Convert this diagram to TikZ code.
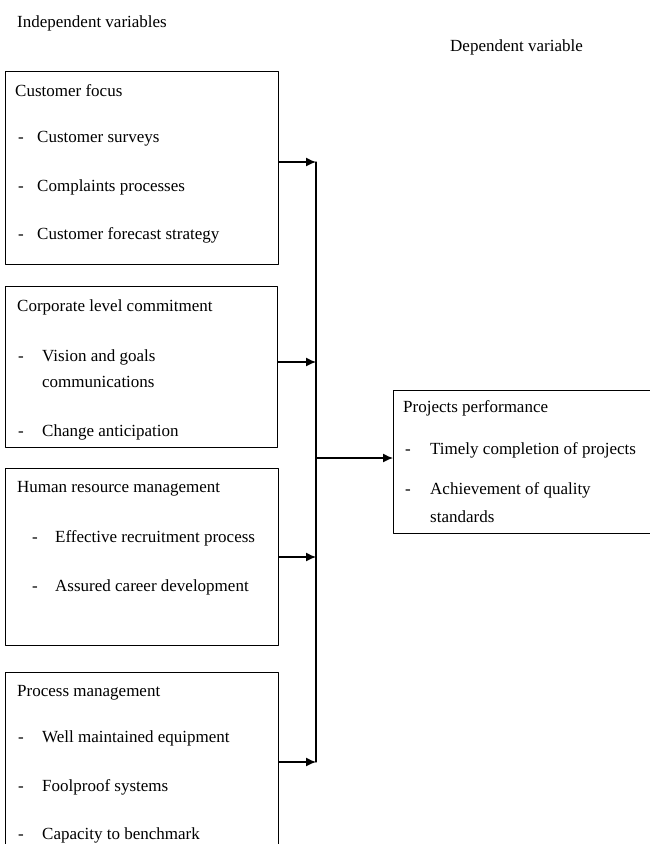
\documentclass[tikz,border=0pt]{standalone}
\usepackage{fontspec}
\setmainfont{Liberation Serif}
\usetikzlibrary{arrows.meta}

\tikzset{
  varbox/.style={draw,line width=1.3pt,anchor=north west,inner sep=0pt},
  txt/.style={anchor=west,inner sep=0pt,text height=12pt,text depth=4pt,
    font=\fontsize{17}{20}\selectfont},
  link/.style={line width=1.3pt,-{Latex[length=10pt,width=9pt]}}
}

\begin{document}
\begin{tikzpicture}[x=1pt,y=-1pt,line cap=round,line join=round]
  \useasboundingbox (0,0) rectangle (650,844);

  \node[txt] (indep) at (17,23) {Independent variables};
  \node[txt] (dep) at (450,47) {Dependent variable};

  % independent variable boxes
  \node[varbox,minimum width=273pt,minimum height=193pt] (focus) at (5,71) {};
  \node[varbox,minimum width=272pt,minimum height=161pt] (commit) at (5,286) {};
  \node[varbox,minimum width=273pt,minimum height=177pt] (hrm) at (5,468) {};
  \node[varbox,minimum width=273pt,minimum height=200pt] (procm) at (5,672) {};
  % dependent variable box
  \node[varbox,minimum width=270pt,minimum height=143pt] (perf) at (393,390) {};

  \node[txt] (focust) at (15,92) {Customer focus};
  \foreach \y/\t [count=\i] in {138/Customer surveys,187/Complaints processes,235/Customer forecast strategy}{
    \node[txt] (focusd\i) at (18,\y) {-};
    \node[txt] (focusi\i) at (37,\y) {\t};
  }

  \node[txt] (committ) at (17,307) {Corporate level commitment};
  \foreach \y/\t [count=\i] in {357/Vision and goals,432/Change anticipation}{
    \node[txt] (commitd\i) at (18,\y) {-};
    \node[txt] (commiti\i) at (42,\y) {\t};
  }
  \node[txt] (commitx) at (42,383) {communications};

  \node[txt] (hrmt) at (17,488) {Human resource management};
  \foreach \y/\t [count=\i] in {538/Effective recruitment process,587/Assured career development}{
    \node[txt] (hrmd\i) at (32,\y) {-};
    \node[txt] (hrmi\i) at (55,\y) {\t};
  }

  \node[txt] (procmt) at (17,692) {Process management};
  \foreach \y/\t [count=\i] in {738/Well maintained equipment,787/Foolproof systems,835/Capacity to benchmark}{
    \node[txt] (procmd\i) at (18,\y) {-};
    \node[txt] (procmi\i) at (42,\y) {\t};
  }

  \node[txt] (perft) at (403,408) {Projects performance};
  \foreach \y/\t [count=\i] in {450/Timely completion of projects,490/Achievement of quality}{
    \node[txt] (perfd\i) at (405,\y) {-};
    \node[txt] (perfi\i) at (430,\y) {\t};
  }
  \node[txt] (perfx) at (430,518) {standards};

  % bus line and arrows
  \coordinate (bus1) at (316,162);
  \coordinate (bus2) at (316,362);
  \coordinate (bus3) at (316,557);
  \coordinate (bus4) at (316,762);
  \coordinate (busm) at (316,458);
  \draw[line width=1.3pt] (bus1) -- (bus4);
  \draw[link] (focus.east |- bus1) -- (bus1);
  \draw[link] (commit.east |- bus2) -- (bus2);
  \draw[link] (hrm.east |- bus3) -- (bus3);
  \draw[link] (procm.east |- bus4) -- (bus4);
  \draw[link] (busm) -- (perf.west |- busm);
\end{tikzpicture}
\end{document}
